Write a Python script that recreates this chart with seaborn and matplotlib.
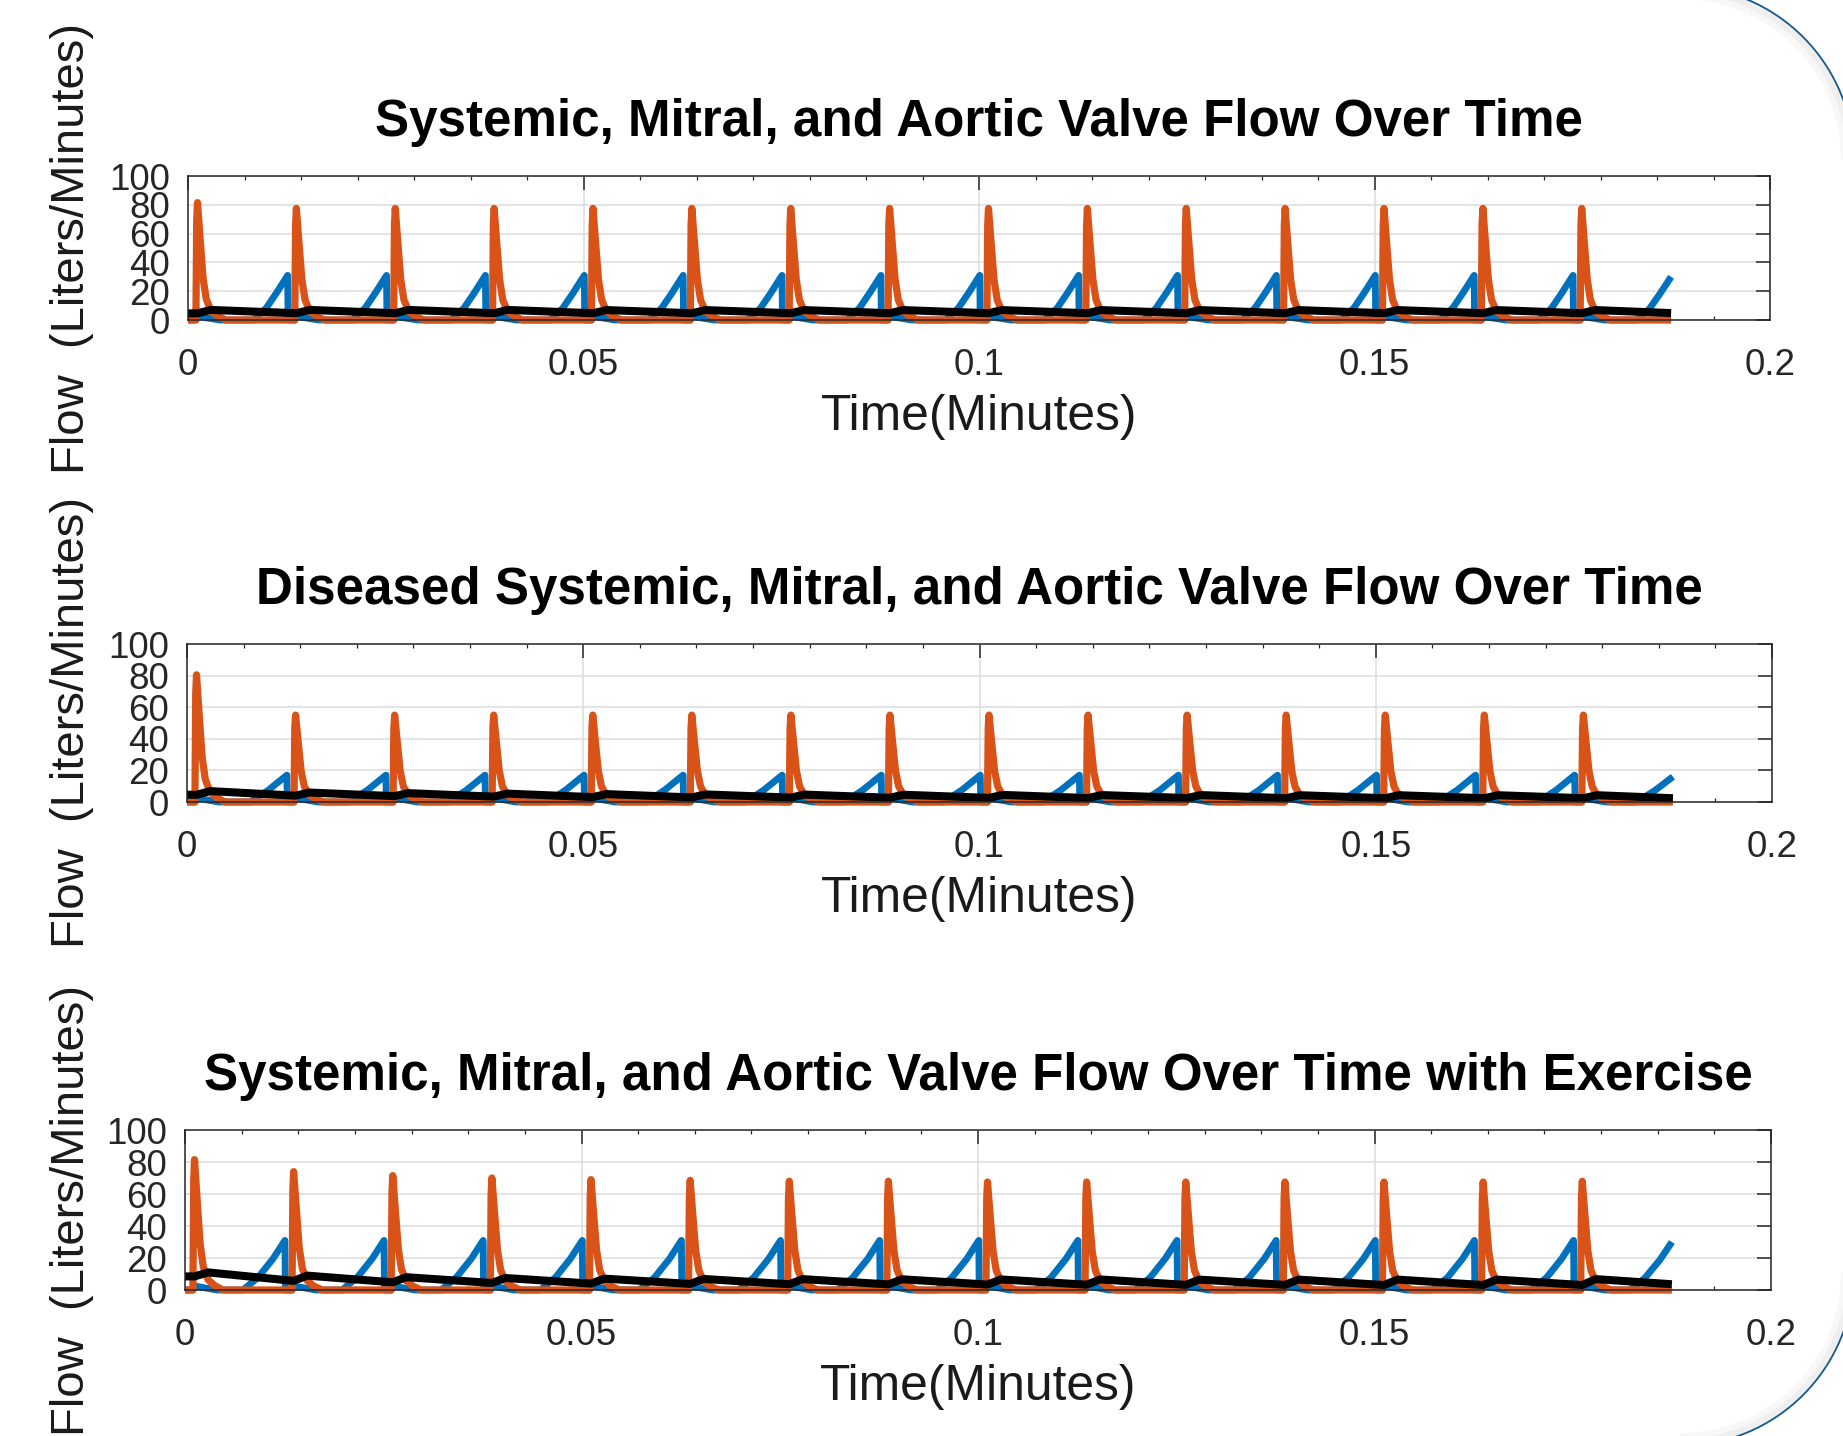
import numpy as np
import pandas as pd
import matplotlib
matplotlib.use("Agg")
import matplotlib.pyplot as plt
import seaborn as sns
from matplotlib.ticker import AutoMinorLocator
from matplotlib.patches import Arc

# ---------------- data ----------------
# times (minutes) of the aortic spikes, 15 beats, and end of the record
beat_times = [0.0012, 0.0137, 0.0262, 0.0387, 0.0512, 0.0637, 0.0762, 0.0887,
              0.1012, 0.1137, 0.1262, 0.1387, 0.1512, 0.1637, 0.1762]
next_beat = 0.1886
t_end = 0.1875

# shape of one aortic ejection: offset from spike (min), fraction of peak
aortic_dt = [-0.0002, -0.0001, 0.0, 0.0003, 0.0007, 0.0011, 0.0017, 0.0025, 0.0036]
aortic_frac = [0.0, 0.85, 1.0, 0.72, 0.36, 0.18, 0.08, 0.035, 0.0]

# mitral filling ramp before each spike (offset from that spike)
mitral_dt_normal = [-0.0054, -0.0038, -0.0025, -0.0011, -0.00105]
mitral_frac_normal = [0.0, 0.27, 0.61, 1.0, 0.0]
mitral_dt_diseased = [-0.0057, -0.0034, -0.0011, -0.00105]
mitral_frac_diseased = [0.0, 0.45, 1.0, 0.0]
mitral_dt_exercise = [-0.0064, -0.0045, -0.0026, -0.0011, -0.00105]
mitral_frac_exercise = [0.0, 0.25, 0.63, 1.0, 0.0]
# small mitral backflow blip right at the spike (L/min)
wedge_dt = [-0.0002, 0.0, 0.0028]
wedge_val = [0.0, 2.5, 0.0]

# peaks per beat
aortic_peak_normal = [81.5, 77.5, 77.5, 77.5, 77.5, 77.5, 77.5, 77.5,
                      77.5, 77.5, 77.5, 77.5, 77.5, 77.5, 77.5]
aortic_peak_diseased = [80.5, 55, 55, 55, 55, 55, 55, 55,
                        55, 55, 55, 55, 55, 55, 55]
aortic_peak_exercise = [81.5, 74, 71.5, 70, 69, 68.5, 68, 68,
                        67.5, 67.5, 67.5, 67.5, 67.5, 67.5, 68]
# mitral ramp peak before each spike (first beat has none) + final ramp
mitral_peak_normal = [0, 31, 31, 31, 31, 31, 31, 31, 31, 31, 31, 31, 31, 31, 31, 30]
mitral_peak_diseased = [0, 17, 17, 17, 17, 17, 17, 17, 17, 17, 17, 17, 17, 17, 17, 16]
mitral_peak_exercise = [0, 31, 31, 31, 31, 31, 31, 31, 31, 31, 31, 31, 31, 31, 31, 30]

# systemic flow: value at t=0, trough at each spike, crest after it, value at end
sys_start = [4.6, 4.6, 8.5]
sys_end = [4.8, 2.4, 3.6]
sys_min_normal = [4.6, 4.7, 4.7, 4.7, 4.7, 4.7, 4.7, 4.7, 4.7, 4.7, 4.7, 4.7, 4.7, 4.7, 4.7]
sys_max_normal = [7.0, 7.0, 7.0, 7.0, 6.9, 6.9, 6.9, 6.9, 6.9, 6.9, 6.9, 6.9, 6.9, 6.9, 6.9]
sys_min_diseased = [4.5, 4.0, 3.7, 3.4, 3.1, 2.9, 2.8, 2.7, 2.6, 2.5, 2.5, 2.4, 2.4, 2.4, 2.4]
sys_max_diseased = [6.9, 6.0, 5.6, 5.3, 5.0, 4.8, 4.7, 4.6, 4.5, 4.4, 4.4, 4.3, 4.3, 4.3, 4.3]
sys_min_exercise = [8.5, 5.7, 4.8, 4.4, 4.0, 3.8, 3.6, 3.5, 3.4, 3.3, 3.2, 3.2, 3.1, 3.1, 3.1]
sys_max_exercise = [11.0, 9.0, 8.0, 7.5, 7.1, 6.9, 6.8, 6.7, 6.6, 6.6, 6.5, 6.5, 6.5, 6.5, 6.8]
sys_rise_dt = 0.0017

titles = ["Systemic, Mitral, and Aortic Valve Flow Over Time",
          "Diseased Systemic, Mitral, and Aortic Valve Flow Over Time",
          "Systemic, Mitral, and Aortic Valve Flow Over Time with Exercise"]
x_ticks = [0, 0.05, 0.1, 0.15, 0.2]
x_tick_labels = ["0", "0.05", "0.1", "0.15", "0.2"]
y_ticks = [0, 20, 40, 60, 80, 100]


def build_aortic(peaks):
    t, v = [0.0], [0.0]
    for p, pk in zip(beat_times, peaks):
        t += [p + d for d in aortic_dt]
        v += [pk * f for f in aortic_frac]
    t.append(t_end); v.append(0.0)
    return pd.DataFrame({"t": t, "flow": v})


def build_mitral(peaks, ramp_dt, ramp_frac):
    t, v = [0.0], [0.0]
    for i, (p, pk) in enumerate(zip(beat_times + [next_beat], peaks)):
        if pk > 0:
            t += [p + d for d in ramp_dt]
            v += [pk * f for f in ramp_frac]
        if i < len(beat_times):
            t += [p + d for d in wedge_dt]
            v += list(wedge_val)
    df = pd.DataFrame({"t": t, "flow": v})
    return df[df.t <= t_end + 1e-6]


def build_systemic(start, mins, maxs, end):
    t, v = [0.0], [start]
    for p, lo, hi in zip(beat_times, mins, maxs):
        t += [p, p + sys_rise_dt]
        v += [lo, hi]
    t.append(t_end); v.append(end)
    return pd.DataFrame({"t": t, "flow": v})


panels = [
    (build_mitral(mitral_peak_normal, mitral_dt_normal, mitral_frac_normal),
     build_aortic(aortic_peak_normal),
     build_systemic(sys_start[0], sys_min_normal, sys_max_normal, sys_end[0])),
    (build_mitral(mitral_peak_diseased, mitral_dt_diseased, mitral_frac_diseased),
     build_aortic(aortic_peak_diseased),
     build_systemic(sys_start[1], sys_min_diseased, sys_max_diseased, sys_end[1])),
    (build_mitral(mitral_peak_exercise, mitral_dt_exercise, mitral_frac_exercise),
     build_aortic(aortic_peak_exercise),
     build_systemic(sys_start[2], sys_min_exercise, sys_max_exercise, sys_end[2])),
]

# ---------------- style ----------------
sns.set_theme(style="white")
plt.rcParams['font.family'] = ['Liberation Sans', 'DejaVu Sans']
plt.rcParams['axes.edgecolor'] = '#262626'
plt.rcParams['axes.linewidth'] = 1.1
plt.rcParams['xtick.color'] = '#262626'
plt.rcParams['ytick.color'] = '#262626'
plt.rcParams['xtick.labelcolor'] = '#262626'
plt.rcParams['ytick.labelcolor'] = '#262626'

W, H = 1843, 1436
fig = plt.figure(figsize=(W / 100, H / 100), dpi=100)
fig.patch.set_facecolor('white')

# axes boxes in pixels: left, top, right, bottom
boxes = [(188, 176, 1770, 320), (187, 644, 1772, 802), (185, 1130, 1771, 1290)]

BLUE = '#0072BD'
ORANGE = '#D95319'

for (l, t, r, b), title, (mit, aor, sysf) in zip(boxes, titles, panels):
    ax = fig.add_axes([l / W, 1 - b / H, (r - l) / W, (b - t) / H])
    ax.set_facecolor('white')
    kw = dict(estimator=None, sort=False, clip_on=False,
              solid_joinstyle='round', solid_capstyle='butt', legend=False)
    sns.lineplot(data=mit, x='t', y='flow', ax=ax, color=BLUE, linewidth=4.9, **kw)
    sns.lineplot(data=aor, x='t', y='flow', ax=ax, color=ORANGE, linewidth=5.2, **kw)
    sns.lineplot(data=sysf, x='t', y='flow', ax=ax, color='black', linewidth=5.8, **kw)

    ax.set_xlim(0, 0.2)
    ax.set_ylim(0, 100)
    ax.set_xticks(x_ticks)
    ax.set_xticklabels(x_tick_labels)
    ax.set_yticks(y_ticks)
    ax.xaxis.set_minor_locator(AutoMinorLocator(7))
    ax.grid(True, which='major', color='#dcdcdc', linewidth=1.1)
    ax.set_axisbelow(True)
    ax.tick_params(axis='both', which='major', direction='in', length=10, width=1.1,
                   top=True, right=True, labelsize=26.5)
    ax.tick_params(axis='x', which='major', pad=20)
    ax.tick_params(axis='y', which='major', pad=13)
    ax.tick_params(axis='x', which='minor', direction='in', length=3, width=0.9,
                   top=True, bottom=True)
    for s in ax.spines.values():
        s.set_visible(True)
        s.set_color('#262626')
    ax.set_xlabel('Time(Minutes)', fontsize=35.8, labelpad=8, color='#1a1a1a')
    ax.set_ylabel('')
    ax.set_title(title, fontsize=36.8, fontweight='bold', pad=29, color='black')

    fig.text(72 / W, 1 - (t + b) / 2 / H, 'Flow  (Liters/Minutes)', rotation=90,
             ha='center', va='center', fontsize=34, color='#1a1a1a')

# rounded frame corner at the right edge (pixel coords -> inches)
def px(x, y):
    return x / 100, (H - y) / 100

r_px = 174
for (cx, cy, th1, th2) in [(1680, 160, 0, 90), (1680, 1272, 270, 360)]:
    c = px(cx, cy)
    for dr, lw, a in [(6, 10, 0.05), (3, 6, 0.07)]:
        fig.add_artist(Arc(c, 2 * (r_px - dr) / 100, 2 * (r_px - dr) / 100,
                           theta1=th1, theta2=th2, transform=fig.dpi_scale_trans,
                           color='grey', lw=lw, alpha=a))
    fig.add_artist(Arc(c, 2 * r_px / 100, 2 * r_px / 100, theta1=th1, theta2=th2,
                       transform=fig.dpi_scale_trans, color='#175a8e', lw=1.3))

fig.savefig('out.png', dpi=100, facecolor='white')
